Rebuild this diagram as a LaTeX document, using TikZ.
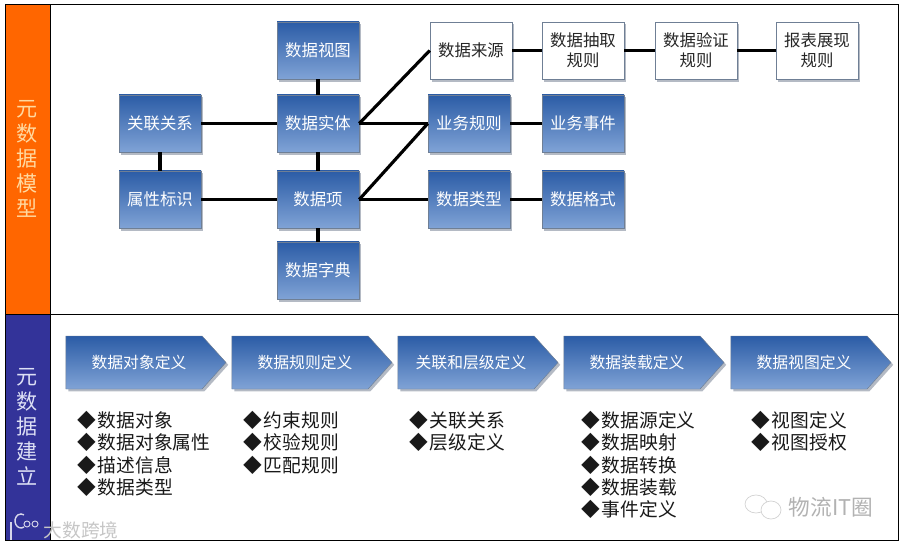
\documentclass[tikz,border=0pt]{standalone}
\usepackage{fontspec}
\setmainfont{Noto Sans CJK SC}
\usetikzlibrary{shapes.symbols,shadows}
\definecolor{boxtop}{HTML}{2B5CA6}
\definecolor{boxbottom}{HTML}{80A3D6}
\definecolor{boxedge}{HTML}{6F7F95}
\definecolor{shadowgray}{HTML}{B4BAC4}
\definecolor{panelorange}{HTML}{FF6600}
\definecolor{panelblue}{HTML}{333399}
\definecolor{sideamber}{HTML}{FFD9A0}
\definecolor{sidepale}{HTML}{DDE0F5}
\newcommand{\itemmark}{◆\hspace{0.1em}}
\begin{document}
\begin{tikzpicture}[
        x=0.03cm, y=-0.03cm,
        panel/.style={rectangle, draw=black, line width=0.7pt, minimum width=26.79cm},
        sidebar/.style={rectangle, draw=black, line width=0.7pt, minimum width=1.35cm, align=center, font=\fontsize{18}{21.3}\selectfont},
        entity/.style={rectangle, draw=boxedge, top color=boxtop, bottom color=boxbottom, minimum width=2.46cm, minimum height=1.72cm, text=white, align=center, font=\fontsize{14}{17}\selectfont, drop shadow={shadow xshift=0.07cm, shadow yshift=-0.07cm, fill=shadowgray, opacity=1}},
        plainbox/.style={entity, top color=white, bottom color=white, text=black!85},
        stepbar/.style={signal, signal to=east, signal pointer angle=96, draw=boxedge, top color=boxtop, bottom color=boxbottom, minimum width=4.8cm, minimum height=1.59cm, inner xsep=0pt, text=white, font=\fontsize{13.5}{17}\selectfont, execute at begin node={\hspace{0.3cm}}, drop shadow={shadow xshift=0.07cm, shadow yshift=-0.07cm, fill=shadowgray, opacity=1}},
        itemlist/.style={anchor=north west, align=left, inner sep=0pt, text=black!90, font=\fontsize{16}{19}\selectfont},
        link/.style={line width=2.7pt, color=black},
        brandmark/.style={text=gray!60, font=\fontsize{18.5}{21}\selectfont},
        logoline/.style={draw=white, line width=1.2pt, opacity=0.8},
        chatline/.style={draw=gray!35, line width=0.6pt}
    ]
        \useasboundingbox (0,0) rectangle (903,547);

        % Frames
        \node[panel, minimum height=9.3cm] (model_panel) at (451.5,159) {};
        \node[panel, minimum height=6.78cm] (build_panel) at (451.5,427) {};
        \node[sidebar, fill=panelorange, minimum height=9.3cm, text=sideamber] (model_side) at (27.5,159) {元\\数\\据\\模\\型};
        \node[sidebar, fill=panelblue, minimum height=6.78cm, text=sidepale] (build_side) at (27.5,427) {元\\数\\据\\建\\立};

        % Central column
        \node[entity] (data_view) at (318,50.5) {数据视图};
        \node[entity] (data_entity) at (318,123.5) {数据实体};
        \node[entity] (data_item) at (318,199.5) {数据项};
        \node[entity] (data_dict) at (318,270.5) {数据字典};

        % Left column
        \node[entity] (relation) at (160,123.5) {关联关系};
        \node[entity] (attribute) at (160,199.5) {属性标识};

        % Rules row
        \node[plainbox] (source) at (471,50.5) {数据来源};
        \node[plainbox] (extract) at (583,50.5) {数据抽取\\规则};
        \node[plainbox] (verify) at (696,50.5) {数据验证\\规则};
        \node[plainbox] (report) at (817,50.5) {报表展现\\规则};

        % Right side
        \node[entity] (biz_rule) at (469,123.5) {业务规则};
        \node[entity] (biz_event) at (583,123.5) {业务事件};
        \node[entity] (data_type) at (469,199.5) {数据类型};
        \node[entity] (data_format) at (583,199.5) {数据格式};

        % Connections
        \draw[link] (data_view) -- (data_entity);
        \draw[link] (data_entity) -- (data_item);
        \draw[link] (data_item) -- (data_dict);
        \draw[link] (relation) -- (attribute);
        \draw[link] (relation) -- (data_entity);
        \draw[link] (attribute) -- (data_item);
        \draw[link] (data_entity.east) -- (source.west);
        \draw[link] (data_entity) -- (biz_rule);
        \draw[link] (data_item.east) -- (biz_rule.west);
        \draw[link] (data_item) -- (data_type);
        \draw[link] (source) -- (extract);
        \draw[link] (extract) -- (verify);
        \draw[link] (verify) -- (report);
        \draw[link] (biz_rule) -- (biz_event);
        \draw[link] (data_type) -- (data_format);

        % Steps
        \node[stepbar] (step_object) at (134,362.5) {数据对象定义};
        \node[stepbar] (step_rule) at (300,362.5) {数据规则定义};
        \node[stepbar] (step_level) at (466,362.5) {关联和层级定义};
        \node[stepbar] (step_load) at (632,362.5) {数据装载定义};
        \node[stepbar] (step_show) at (799,362.5) {数据视图定义};

        % Lists
        \node[itemlist] (list_object) at (77,411) {\itemmark 数据对象\\\itemmark 数据对象属性\\\itemmark 描述信息\\\itemmark 数据类型};
        \node[itemlist] (list_rule) at (243,411) {\itemmark 约束规则\\\itemmark 校验规则\\\itemmark 匹配规则};
        \node[itemlist] (list_level) at (409,411) {\itemmark 关联关系\\\itemmark 层级定义};
        \node[itemlist] (list_load) at (581,411) {\itemmark 数据源定义\\\itemmark 数据映射\\\itemmark 数据转换\\\itemmark 数据装载\\\itemmark 事件定义};
        \node[itemlist] (list_show) at (751,411) {\itemmark 视图定义\\\itemmark 视图授权};

        % Watermarks
        \node[brandmark, text=gray!45, font=\fontsize{16}{19}\selectfont] (mark_left) at (81,530) {大数跨境};
        \node[brandmark] (mark_right) at (831,507) {物流IT圈};
        \draw[logoline] (11,522) -- (11,540);
        \draw[logoline] (24,527) arc (60:300:6 and 7);
        \draw[logoline, line width=0.8pt] (27,524) circle (3) (35,524) circle (3);
        \draw[chatline] (756,504) ellipse (11 and 9);
        \draw[chatline, fill=white] (771,510) ellipse (10 and 9);
    \end{tikzpicture}
\end{document}
